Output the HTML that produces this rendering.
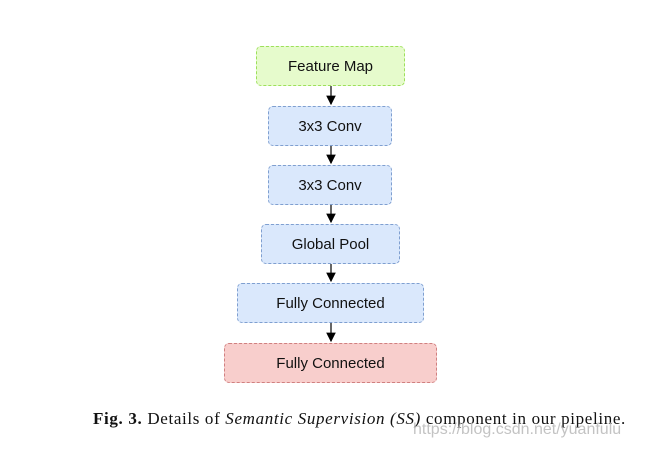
<!DOCTYPE html>
<html><head><style>
body{margin:0;width:653px;height:450px;background:#fff;position:relative;overflow:hidden}
.b{position:absolute;box-sizing:border-box;border:1.5px dashed #7f9fd0;background:#dae8fc;border-radius:5px;font:15px "Liberation Sans",sans-serif;color:#111;display:flex;align-items:center;justify-content:center}
.cap{position:absolute;left:93px;top:409px;font:17px "Liberation Serif",serif;letter-spacing:0.65px;color:#111;white-space:nowrap}
.wm{position:absolute;left:413px;top:421px;font:16px "Liberation Sans",sans-serif;color:rgba(185,185,185,0.85)}
</style></head><body>
<svg width="653" height="450" style="position:absolute;left:0;top:0">
<defs><marker id="a" markerWidth="8" markerHeight="8" refX="7" refY="4" orient="auto"><path d="M0,0L8,4L0,8z" fill="#000"/></marker></defs>
<g stroke="#000" stroke-width="1.2" marker-end="url(#a)">
<line x1="331" y1="86" x2="331" y2="104"/>
<line x1="331" y1="146" x2="331" y2="163"/>
<line x1="331" y1="205" x2="331" y2="222"/>
<line x1="331" y1="264" x2="331" y2="281"/>
<line x1="331" y1="323" x2="331" y2="341"/>
</g></svg>
<div class="b" style="left:256px;top:46px;width:149px;height:40px;background:#e6fbcc;border-color:#9de05a">Feature Map</div>
<div class="b" style="left:268px;top:106px;width:124px;height:40px">3x3 Conv</div>
<div class="b" style="left:268px;top:165px;width:124px;height:40px">3x3 Conv</div>
<div class="b" style="left:261px;top:224px;width:139px;height:40px">Global Pool</div>
<div class="b" style="left:237px;top:283px;width:187px;height:40px">Fully Connected</div>
<div class="b" style="left:224px;top:343px;width:213px;height:40px;background:#f8cecc;border-color:#d08080">Fully Connected</div>
<div class="cap"><b>Fig. 3.</b> Details of <i>Semantic Supervision (SS)</i> component in our pipeline.</div>
<div class="wm">https://blog.csdn.net/yuanfulu</div>
</body></html>
